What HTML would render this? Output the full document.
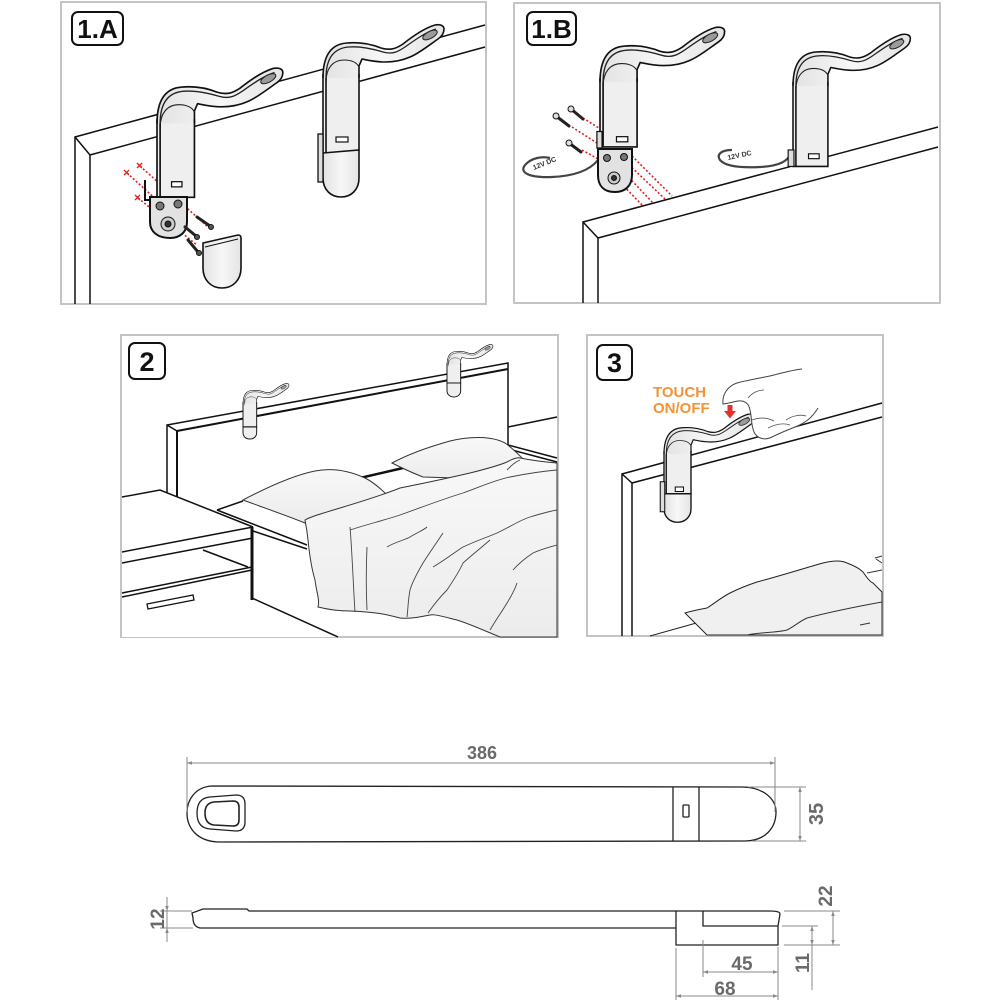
<!DOCTYPE html>
<html><head><meta charset="utf-8">
<style>
html,body{margin:0;padding:0;background:#fff;}
svg{display:block;}
text{font-family:"Liberation Sans",Arial,sans-serif;}
</style></head><body>
<svg width="1000" height="1000" viewBox="0 0 1000 1000" xmlns="http://www.w3.org/2000/svg">
<defs>
 <linearGradient id="lg" x1="0" y1="0" x2="1" y2="0"><stop offset="0" stop-color="#e2e2e2"/><stop offset="0.5" stop-color="#f7f7f7"/><stop offset="1" stop-color="#e4e4e4"/></linearGradient>
 <linearGradient id="bl" x1="0" y1="0" x2="0" y2="1"><stop offset="0" stop-color="#f8f8f8"/><stop offset="1" stop-color="#ececec"/></linearGradient>
 <g id="arm">
  <path d="M0,36 C0,14 8,2 24,1 C36,0 48,2 58,6 C68,9 74,6 80,2 C90,-6 102,-14 112,-17 C118,-18 121,-16 121,-13 C121,-8 118,-5 115,-3 C105,4 95,12 87,15 C78,19 70,20 62,20 C52,20 44,18 39,17 L36,24 L36,36" fill="url(#lg)" stroke="#111" stroke-width="1.6" stroke-linejoin="round"/>
  <path d="M3,36 C3,16 11,6 26,5 C38,4 50,7 60,10 C70,13 76,9 82,5 C92,-2 103,-10 113,-13" fill="none" stroke="#222" stroke-width="1.3"/>
  <path d="M3,40 C3,26 10,18 21,18 C29,18 34,21 36,25" fill="none" stroke="#222" stroke-width="1.1"/>
  <ellipse cx="107" cy="-7" rx="8" ry="3.5" transform="rotate(-28 107 -7)" fill="#9a9a9a" stroke="#222" stroke-width="1"/>
 </g>
 <marker id="ar" viewBox="0 0 10 10" refX="10" refY="5" markerWidth="7" markerHeight="5" orient="auto-start-reverse" markerUnits="userSpaceOnUse"><path d="M0,1.5 L10,5 L0,8.5 z" fill="#888"/></marker>
</defs>

<!-- ================= PANEL 1.A ================= -->
<rect x="61" y="2" width="425" height="302" fill="#fff" stroke="#c4c4c4" stroke-width="2"/>
<g fill="none" stroke="#111" stroke-width="1.5">
 <path d="M75,304 V137 L485,25"/>
 <path d="M90,304 V155 L485,47"/>
 <path d="M75,137 L90,155"/>
</g>
<rect x="72" y="12" width="51" height="33" rx="6" fill="#fff" stroke="#111" stroke-width="2"/>
<text x="97.5" y="38" font-size="26" font-weight="bold" text-anchor="middle" fill="#111">1.A</text>

<g stroke="#e32020" stroke-width="1.6" stroke-dasharray="2,2" fill="none">
 <path d="M140,166 L208,227"/>
 <path d="M127,173 L193,233"/>
 <path d="M138,198 L197,245"/>
</g>
<g stroke="#e32020" stroke-width="1.3">
 <path d="M137,163 l5,5 M142,163 l-5,5"/>
 <path d="M124,170 l5,5 M129,170 l-5,5"/>
 <path d="M135,195 l5,5 M140,195 l-5,5"/>
</g>

<!-- lamp A1 (exploded) -->
<g transform="translate(157,86) scale(1.04)">
 <rect x="0" y="30" width="36" height="78" fill="#efefef"/>
 <use href="#arm"/>
 <path d="M0,32 V107 H36 V32 M3,36 V107" fill="none" stroke="#111" stroke-width="1.6"/>
 <rect x="14" y="92" width="10" height="5" fill="#fff" stroke="#111" stroke-width="1.2"/>
</g>
<path d="M145,180 V200 H151" fill="none" stroke="#111" stroke-width="2"/>
<path d="M150,197 L187,197 L187,222 C187,232 180,238 170,238 C158,238 150,232 150,222 Z" fill="#e2e2e2" stroke="#111" stroke-width="2"/>
<g fill="#777" stroke="#111" stroke-width="1">
 <circle cx="160" cy="206" r="4"/><circle cx="178" cy="204" r="4"/>
 <circle cx="168" cy="224" r="7" fill="#ccc"/><circle cx="168" cy="224" r="3" fill="#333"/>
</g>
<g stroke="#222" stroke-width="3" stroke-linecap="round">
 <path d="M197,217 L210,226"/><path d="M185,227 L196,236"/><path d="M188,240 L198,252"/>
</g>
<g fill="#555" stroke="#111"><circle cx="211" cy="227" r="2.5"/><circle cx="197" cy="237" r="2.5"/><circle cx="199" cy="253" r="2.5"/></g>
<path d="M203,243 L238,235 C240,235 241,236 241,238 L241,268 C241,280 233,288 222,288 C211,288 203,280 203,268 Z" fill="url(#lg)" stroke="#111" stroke-width="1.6"/>
<path d="M205,247 L238,239" stroke="#111" stroke-width="1" fill="none"/>

<!-- lamp A2 -->
<g transform="translate(323,42)">
 <rect x="0" y="30" width="36" height="81" fill="#efefef"/>
 <use href="#arm"/>
 <path d="M0,111 L36,108 V136 C36,148 28,155 18,155 C8,155 0,148 0,136 Z" fill="url(#lg)" stroke="#111" stroke-width="1.6"/>
 <path d="M0,32 V111 M36,32 V108 M3,36 V111" fill="none" stroke="#111" stroke-width="1.6"/>
 <rect x="-5" y="92" width="5" height="48" fill="#ddd" stroke="#111" stroke-width="1.3"/>
 <rect x="13" y="95" width="12" height="5" fill="#fff" stroke="#111" stroke-width="1.2"/>
</g>

<!-- ================= PANEL 1.B ================= -->
<rect x="514" y="3" width="426" height="300" fill="#fff" stroke="#c4c4c4" stroke-width="2"/>
<g fill="none" stroke="#111" stroke-width="1.5">
 <path d="M583,303 V222 L938,127"/>
 <path d="M598,303 V238 L938,147"/>
 <path d="M583,222 L598,238"/>
</g>
<rect x="527" y="12" width="49" height="33" rx="6" fill="#fff" stroke="#111" stroke-width="2"/>
<text x="551.5" y="38" font-size="26" font-weight="bold" text-anchor="middle" fill="#111">1.B</text>

<g stroke="#e32020" stroke-width="1.6" stroke-dasharray="2,2" fill="none">
 <path d="M583,118 L602,130"/>
 <path d="M572,127 L600,145"/>
 <path d="M582,150 L600,160"/>
 <path d="M610,172 L643,206"/>
 <path d="M618,166 L653,203"/>
 <path d="M626,162 L665,199"/>
 <path d="M632,156 L672,196"/>
</g>
<g stroke="#222" stroke-width="3" stroke-linecap="round">
 <path d="M556,116 L569,126"/><path d="M571,109 L583,119"/><path d="M569,143 L581,152"/>
</g>
<g fill="#ddd" stroke="#111"><circle cx="556" cy="116" r="3"/><circle cx="571" cy="109" r="3"/><circle cx="569" cy="143" r="3"/></g>
<path d="M598,160 C590,170 575,176 552,177 C528,178 518,172 526,164 C532,158 542,156 550,158" fill="none" stroke="#444" stroke-width="2.2"/>
<text x="534" y="170" font-size="7" font-weight="bold" fill="#333" transform="rotate(-22 534 170)">12V DC</text>

<!-- lamp B1 -->
<g transform="translate(600,45) scale(1.03)">
 <rect x="0" y="30" width="36" height="69" fill="#efefef"/>
 <use href="#arm"/>
 <path d="M0,32 V99 H36 V32 M3,36 V99" fill="none" stroke="#111" stroke-width="1.6"/>
 <rect x="-3" y="84" width="5" height="16" fill="#ddd" stroke="#111" stroke-width="1.2"/>
 <rect x="16" y="89" width="11" height="5" fill="#fff" stroke="#111" stroke-width="1.2"/>
</g>
<path d="M598,149 L632,149 L632,175 C632,186 625,192 615,192 C604,192 598,186 598,175 Z" fill="#e2e2e2" stroke="#111" stroke-width="2"/>
<g fill="#777" stroke="#111" stroke-width="1">
 <circle cx="607" cy="158" r="3.5"/><circle cx="624" cy="157" r="3.5"/>
 <circle cx="614" cy="178" r="6" fill="#ccc"/><circle cx="614" cy="178" r="2.5" fill="#333"/>
</g>

<!-- lamp B2 -->
<path d="M791,153 C788,161 780,166 760,167 C740,168 725,166 720,160 C716,154 722,150 732,150" fill="none" stroke="#444" stroke-width="2.2"/>
<text x="728" y="160" font-size="7" font-weight="bold" fill="#333" transform="rotate(-12 728 160)">12V DC</text>
<g transform="translate(793,51) scale(0.97)">
 <rect x="0" y="30" width="36" height="89" fill="#efefef"/>
 <use href="#arm"/>
 <path d="M0,32 V119 H36 V32 M3,36 V119" fill="none" stroke="#111" stroke-width="1.6"/>
 <rect x="-5" y="102" width="6" height="17" fill="#ddd" stroke="#111" stroke-width="1.2"/>
 <rect x="16" y="106" width="11" height="5" fill="#fff" stroke="#111" stroke-width="1.2"/>
</g>

<!-- ================= PANEL 2 ================= -->
<rect x="121" y="335" width="437" height="302" fill="#fff" stroke="#c4c4c4" stroke-width="2"/>
<g fill="none" stroke="#111" stroke-width="1.5">
 <path d="M167,497 V425 L508,363 V448"/>
 <path d="M177,498 V431 L508,369" stroke-width="2"/>
 <path d="M167,425 L177,431"/>
 <path d="M508,427 L557,417"/>
 <path d="M508,445 L557,458"/>
 <path d="M508,449 L557,462"/>
</g>
<g transform="translate(243,390) scale(0.38)">
 <rect x="0" y="30" width="36" height="67" fill="#efefef"/>
 <use href="#arm"/>
 <path d="M0,97 V112 C0,123 8,129 18,129 C28,129 36,123 36,112 V97 Z" fill="#efefef" stroke="#111" stroke-width="2.5"/>
 <path d="M0,32 V97 H36 V32" fill="none" stroke="#111" stroke-width="2.5"/>
</g>
<g transform="translate(447,351) scale(0.38)">
 <rect x="0" y="30" width="36" height="54" fill="#efefef"/>
 <use href="#arm"/>
 <path d="M0,84 V104 C0,115 8,121 18,121 C28,121 36,115 36,104 V84 Z" fill="#efefef" stroke="#111" stroke-width="2.5"/>
 <path d="M0,32 V84 H36 V32" fill="none" stroke="#111" stroke-width="2.5"/>
</g>
<path d="M122,497 L160,490 L253,527 L253,600 L338,637 L122,637 Z" fill="#fff"/>
<g fill="none" stroke="#111" stroke-width="1.5">
 <path d="M122,497 L160,490 L253,527"/>
 <path d="M122,552 L253,527"/>
 <path d="M122,563 L253,538"/>
 <path d="M203,550 L248,567"/>
 <path d="M122,593 L252,567"/>
 <path d="M122,597 L252,570"/>
 <path d="M252,527 V600" stroke-width="3"/>
 <path d="M252,598 L338,637"/>
 <path d="M147,604 L193,595 L194,600 L148,609 Z" stroke-width="1.3"/>
 <path d="M217,510 L307,545"/>
 <path d="M253,531 L307,549"/>
 <path d="M217,510 L243,501"/>
 <path d="M360,478 L403,468" stroke-width="2.5"/>
</g>
<path d="M243,500 C262,490 290,476 315,471 C335,467 352,472 365,478 C375,483 382,490 386,494 L395,505 L305,523 C285,515 262,507 243,500 Z" fill="url(#bl)" stroke="#333" stroke-width="1"/>
<path d="M392,463 C405,456 425,448 450,441 C470,436 492,436 505,443 C515,450 520,456 524,460 L520,480 L423,477 C410,472 400,467 392,463 Z" fill="url(#bl)" stroke="#333" stroke-width="1"/>
<path d="M305,520 C310,517 320,514 340,508 C360,502 380,496 400,488 C420,484 440,480 470,473 C490,468 500,465 507,462 C512,459 518,457 520,458 C530,460 545,462 557,463 L557,637 L500,637 C490,633 470,624 457,620 C445,617 435,614 430,615 C420,617 410,619 400,618 C385,614 375,612 350,611 C340,611 330,610 318,607 C320,600 316,590 315,580 C312,570 310,560 308,540 C307,530 306,525 305,520 Z" fill="url(#bl)" stroke="#333" stroke-width="1"/>
<g fill="none" stroke="#444" stroke-width="0.9">
 <path d="M350,527 C352,550 353,580 355,612"/>
 <path d="M367,547 C366,570 366,590 367,610"/>
 <path d="M350,530 C365,525 385,520 400,515 C420,508 440,500 463,493 C480,487 495,480 510,477 C530,473 545,471 557,470"/>
 <path d="M387,547 C395,542 405,540 410,537 C418,532 424,530 427,527"/>
 <path d="M443,533 C435,545 428,555 423,563 C416,575 412,583 410,590 C408,600 408,610 407,617"/>
 <path d="M433,567 C445,560 455,552 463,547 C478,540 488,537 497,533 C510,527 520,520 530,517 C540,514 550,511 557,510"/>
 <path d="M428,613 C435,603 442,595 447,590 C455,578 460,570 463,563 C472,555 482,547 490,540"/>
 <path d="M513,570 C520,562 527,557 533,553 C542,549 550,547 557,545"/>
 <path d="M490,630 C497,618 503,610 507,603 C512,595 515,589 517,583"/>
 <path d="M507,470 C512,465 515,462 520,460"/>
</g>
<rect x="129" y="343" width="36" height="36" rx="6" fill="#fff" stroke="#111" stroke-width="2"/>
<text x="147" y="371" font-size="27" font-weight="bold" text-anchor="middle" fill="#111">2</text>

<!-- ================= PANEL 3 ================= -->
<rect x="587" y="335" width="296" height="301" fill="#fff" stroke="#c4c4c4" stroke-width="2"/>
<g fill="none" stroke="#111" stroke-width="1.5">
 <path d="M622,636 V474 L882,403"/>
 <path d="M632,636 V483 L882,417"/>
 <path d="M622,474 L632,483"/>
</g>
<path d="M650,636 L700,622" stroke="#222" stroke-width="1" fill="none"/>
<path d="M685,613 C695,610 702,609 707,608 C715,603 722,597 730,593 C740,588 748,585 757,582 C780,576 805,568 823,563 C835,560 843,561 847,563 C855,566 860,569 863,572 C867,578 870,582 873,583 C877,587 880,590 882,592 L882,635 L707,635 Z" fill="#f0f0f0" stroke="#222" stroke-width="1"/>
<g fill="none" stroke="#333" stroke-width="1">
 <path d="M747,635 C760,632 775,633 787,630 C795,626 800,621 807,618 C830,612 860,606 882,602"/>
 <path d="M867,573 L882,570"/>
 <path d="M860,625 L870,623"/>
 <path d="M875,558 L882,556 M876,559 L882,563"/>
</g>
<g transform="translate(664,427) scale(0.75)">
 <rect x="0" y="30" width="36" height="59" fill="#efefef"/>
 <use href="#arm"/>
 <path d="M0,89 V109 C0,120 8,127 18,127 C28,127 36,120 36,109 V89 Z" fill="url(#lg)" stroke="#111" stroke-width="1.8"/>
 <path d="M0,32 V89 H36 V32 M3,36 V89" fill="none" stroke="#111" stroke-width="1.8"/>
 <rect x="-5" y="73" width="6" height="40" fill="#ddd" stroke="#111" stroke-width="1.4"/>
 <rect x="15" y="80" width="11" height="6" fill="#fff" stroke="#111" stroke-width="1.4"/>
</g>
<!-- hand -->
<path d="M723,404 C722,394 728,386 737,383 C748,380 760,378 770,376 C782,373 792,370 802,369 L822,372 C822,390 821,400 818,408 C812,418 805,423 795,427 C785,431 778,434 772,437 C764,441 757,438 754,432 C751,425 752,418 750,410 C749,404 745,400 738,401 C732,402 726,404 723,404 Z" fill="#fff"/>
<g fill="none" stroke="#444" stroke-width="1">
 <path d="M802,369 C792,370 782,373 770,376 C760,378 748,380 737,383 C728,386 722,394 723,404 C726,404 732,402 738,401 C745,400 749,404 750,410 C752,418 751,425 754,432 C757,438 764,441 772,437 C778,434 785,431 795,427 C805,423 812,418 818,408"/>
</g>
<g fill="none" stroke="#555" stroke-width="0.8">
 <path d="M752,420 C760,417 768,418 774,421"/>
 <path d="M768,428 C776,424 784,423 790,425"/>
 <path d="M786,420 C792,416 800,414 806,416"/>
 <path d="M748,398 C752,393 758,390 764,390"/>
</g>
<path d="M727.5,405 h5 v6 h3.5 l-6,7.5 l-6,-7.5 h3.5 z" fill="#e8302a"/>
<text x="653" y="397" font-size="15" font-weight="bold" fill="#f39237">TOUCH</text>
<text x="653" y="413" font-size="15" font-weight="bold" fill="#f39237">ON/OFF</text>
<rect x="597" y="345" width="35" height="35" rx="6" fill="#fff" stroke="#111" stroke-width="2"/>
<text x="614.5" y="372" font-size="27" font-weight="bold" text-anchor="middle" fill="#111">3</text>

<!-- ================= DIMENSION DRAWING ================= -->
<g fill="none" stroke="#222" stroke-width="1.3">
 <path d="M212,786 L742,787 C762,787 776,798 776,812 C776,828 765,841 745,841 L218,842 C197,841 187,828 187,813 C187,800 195,787 212,786 Z"/>
 <path d="M210,797 L236,795 Q245,795 245,804 L245,822 Q245,831 236,831 L210,829 Q197,828 197,813 Q197,798 210,797 Z"/>
 <path d="M214,802 L233,801 Q239,801 239,807 L239,820 Q239,826 233,826 L214,825 Q205,824 205,813 Q205,803 214,802 Z" stroke-width="1.6"/>
 <path d="M673,787 V841 M699,787 V841"/>
 <rect x="683" y="805" width="6" height="12" rx="1" stroke-width="1.3"/>
</g>
<g stroke="#888" stroke-width="1" fill="none">
 <path d="M187,757 V812 M775,757 V812"/>
 <path d="M187,763 H775" marker-start="url(#ar)" marker-end="url(#ar)"/>
 <path d="M748,787 H806 M752,841 H806"/>
 <path d="M800,787 V841" marker-start="url(#ar)" marker-end="url(#ar)"/>
</g>
<text x="482" y="759" font-size="18" font-weight="bold" fill="#6a6a6a" text-anchor="middle">386</text>
<text x="0" y="0" font-size="20" font-weight="bold" fill="#6a6a6a" text-anchor="middle" transform="translate(823,814) rotate(-90)">35</text>

<g fill="none" stroke="#222" stroke-width="1.3">
 <path d="M676,928 H200 C195,927 193,923 193,918 L192,913 L203,909 H247 L249,911 H676"/>
 <path d="M676,911 H770 Q780,911 780,914 L778,926 V945 H676 Z"/>
 <path d="M703,911 V926 H778"/>
</g>
<g stroke="#888" stroke-width="1" fill="none">
 <path d="M160,911 H192 M160,928 H193"/>
 <path d="M167,897 V911" marker-end="url(#ar)"/>
 <path d="M167,942 V928" marker-end="url(#ar)"/>
 <path d="M167,911 V928"/>
 <path d="M784,911 H840 M784,945 H840 M782,926 H818"/>
 <path d="M833,911 V945" marker-start="url(#ar)" marker-end="url(#ar)"/>
 <path d="M812,926 V945" marker-start="url(#ar)" marker-end="url(#ar)"/>
 <path d="M812,945 V990"/>
 <path d="M703,940 V977 M778,947 V1000 M676,948 V1000"/>
 <path d="M703,972 H778" marker-start="url(#ar)" marker-end="url(#ar)"/>
 <path d="M676,996 H778" marker-start="url(#ar)" marker-end="url(#ar)"/>
</g>
<text x="0" y="0" font-size="19" font-weight="bold" fill="#6a6a6a" text-anchor="middle" transform="translate(164,919) rotate(-90)">12</text>
<text x="0" y="0" font-size="19" font-weight="bold" fill="#6a6a6a" text-anchor="middle" transform="translate(832,896) rotate(-90)">22</text>
<text x="0" y="0" font-size="19" font-weight="bold" fill="#6a6a6a" text-anchor="middle" transform="translate(809,963) rotate(-90)">11</text>
<text x="742" y="970" font-size="19" font-weight="bold" fill="#6a6a6a" text-anchor="middle">45</text>
<text x="725" y="995" font-size="19" font-weight="bold" fill="#6a6a6a" text-anchor="middle">68</text>
</svg>
</body></html>
